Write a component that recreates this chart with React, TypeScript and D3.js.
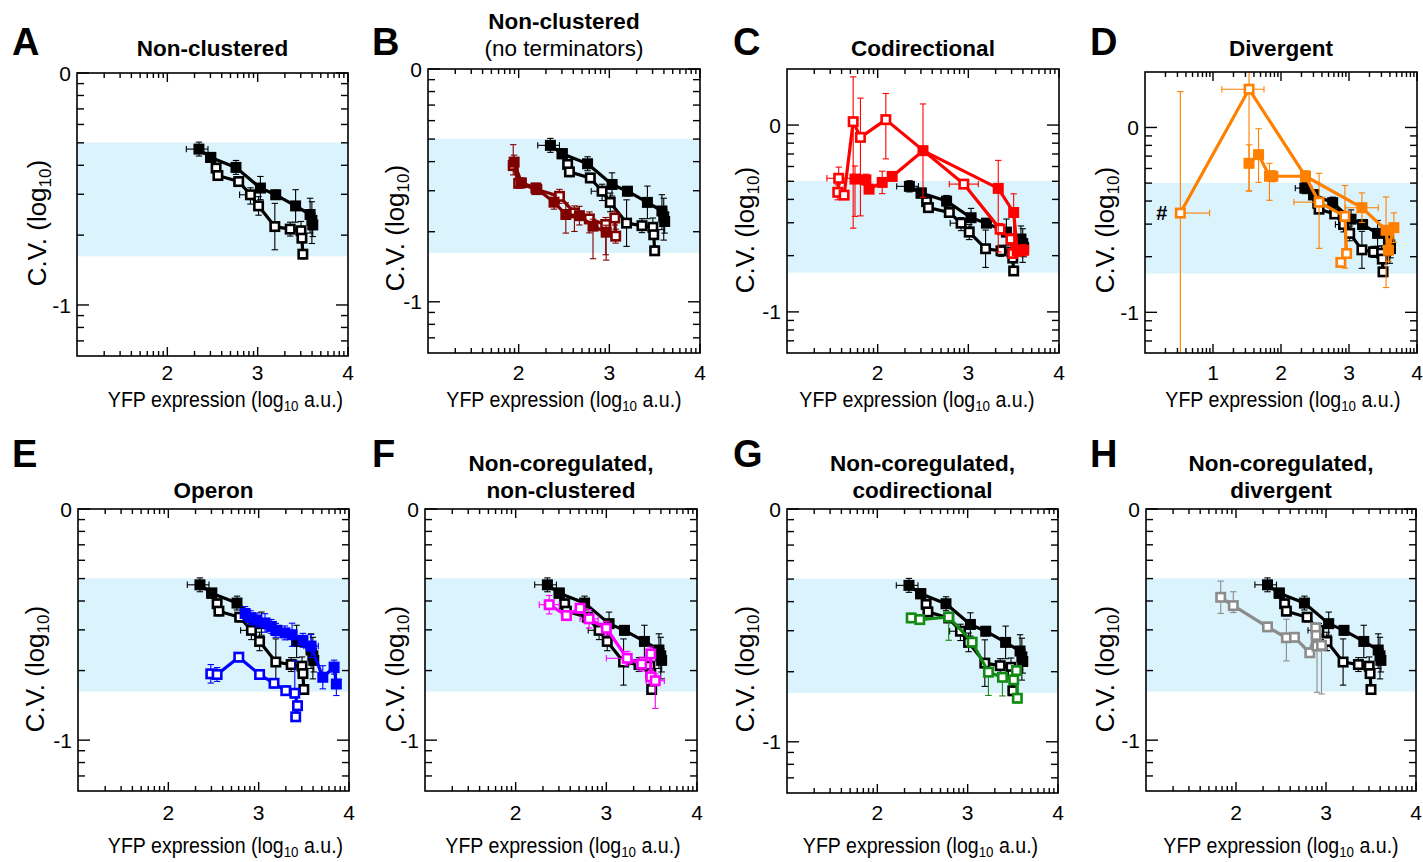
import React from "react";
import * as d3 from "d3";

// x, y, xErrLo, xErrHi, yErrLo, yErrHi  (all in log10 units)
type Pt = [number, number, number, number, number, number];

const refFilled: Pt[] = [
	[2.35, -0.328, 0.14, 0.1, 0.03, 0.03],
	[2.48, -0.364, 0, 0, 0.02, 0.02],
	[2.76, -0.407, 0.03, 0.03, 0.03, 0.03],
	[3.03, -0.496, 0.05, 0.05, 0.05, 0.05],
	[3.2, -0.525, 0.02, 0.02, 0.02, 0.02],
	[3.42, -0.573, 0.02, 0.02, 0.07, 0.07],
	[3.58, -0.61, 0.02, 0.02, 0.08, 0.07],
	[3.6, -0.635, 0.02, 0.02, 0.1, 0.08],
	[3.61, -0.655, 0.02, 0.02, 0.05, 0.05],
];
const refOpen: Pt[] = [
	[2.48, -0.364, 0, 0, 0, 0],
	[2.54, -0.41, 0.02, 0.02, 0.02, 0.02],
	[2.56, -0.442, 0.02, 0.02, 0.02, 0.02],
	[2.79, -0.468, 0.05, 0.05, 0.02, 0.02],
	[2.92, -0.525, 0.12, 0.04, 0.04, 0.03],
	[3.01, -0.573, 0.03, 0.03, 0.04, 0.04],
	[3.19, -0.662, 0.02, 0.02, 0.1, 0.1],
	[3.36, -0.673, 0.02, 0.02, 0.03, 0.03],
	[3.48, -0.68, 0.02, 0.02, 0.04, 0.04],
	[3.49, -0.712, 0.02, 0.02, 0.02, 0.02],
	[3.5, -0.781, 0.02, 0.02, 0.02, 0.02],
];

const noTermOpen: Pt[] = [
	[1.94, -0.415, 0, 0, 0.04, 0.09],
	[2.0, -0.491, 0, 0, 0.02, 0.02],
	[2.2, -0.518, 0, 0, 0.02, 0.02],
	[2.45, -0.547, 0.05, 0.05, 0.03, 0.03],
	[2.615, -0.618, 0, 0, 0.08, 0.03],
	[2.78, -0.644, 0, 0, 0.06, 0.03],
	[2.96, -0.668, 0, 0, 0.13, 0.03],
	[3.06, -0.64, 0, 0, 0.03, 0.03],
	[3.07, -0.718, 0, 0, 0.03, 0.03],
];
const noTermFilled: Pt[] = [
	[1.95, -0.4, 0, 0, 0.03, 0.03],
	[2.03, -0.489, 0, 0, 0.02, 0.02],
	[2.19, -0.511, 0, 0, 0.02, 0.02],
	[2.39, -0.572, 0, 0, 0.03, 0.03],
	[2.52, -0.625, 0, 0, 0.08, 0.05],
	[2.67, -0.63, 0, 0, 0.04, 0.04],
	[2.82, -0.675, 0, 0, 0.14, 0.03],
	[2.965, -0.701, 0, 0, 0.12, 0.03],
];

const codirOpen: Pt[] = [
	[1.57, -0.285, 0.13, 0.13, 0.06, 0.06],
	[1.56, -0.36, 0, 0, 0.04, 0.04],
	[1.63, -0.375, 0, 0, 0.02, 0.02],
	[1.73, 0.018, 0, 0, 0.57, 0.24],
	[1.81, -0.066, 0, 0, 0.42, 0.21],
	[2.09, 0.029, 0, 0, 0.21, 0.14],
	[2.95, -0.316, 0.16, 0.16, 0.02, 0.02],
	[3.35, -0.557, 0, 0, 0.03, 0.03],
	[3.47, -0.611, 0, 0, 0.03, 0.03],
	[3.49, -0.687, 0, 0, 0.02, 0.02],
];
const codirFilled: Pt[] = [
	[1.75, -0.289, 0, 0, 0.2, 0.07],
	[1.87, -0.293, 0.03, 0.03, 0.03, 0.03],
	[1.905, -0.343, 0, 0, 0.02, 0.02],
	[2.05, -0.307, 0, 0, 0.06, 0.06],
	[2.16, -0.275, 0, 0, 0.02, 0.02],
	[2.5, -0.137, 0, 0, 0.25, 0.25],
	[3.33, -0.339, 0, 0, 0.34, 0.15],
	[3.5, -0.468, 0, 0, 0.2, 0.1],
	[3.54, -0.673, 0, 0, 0.03, 0.03],
	[3.61, -0.67, 0, 0, 0.03, 0.03],
];

const divOpen: Pt[] = [
	[0.52, -0.463, 0, 0.43, 1.2, 0.657],
	[1.53, 0.207, 0.4, 0.22, 0.55, 0.2],
	[2.36, -0.264, 0, 0, 0, 0],
	[2.56, -0.404, 0.37, 0, 0.25, 0.156],
	[2.94, -0.481, 0, 0, 0.28, 0.167],
	[2.965, -0.682, 0, 0, 0.02, 0.02],
	[2.88, -0.73, 0, 0, 0.02, 0.02],
];
const divFilled: Pt[] = [
	[1.53, -0.194, 0.02, 0.02, 0.15, 0.1],
	[1.67, -0.147, 0, 0, 0.15, 0.14],
	[1.83, -0.264, 0.05, 0.05, 0.13, 0.07],
	[1.88, -0.264, 0.02, 0.02, 0.03, 0.03],
	[2.36, -0.264, 0.03, 0.03, 0.03, 0.03],
	[3.19, -0.434, 0.24, 0.24, 0.08, 0.08],
	[3.545, -0.556, 0, 0, 0.31, 0.18],
	[3.58, -0.664, 0, 0, 0.06, 0.06],
	[3.66, -0.542, 0, 0, 0.08, 0.08],
];

const operonFilled: Pt[] = [
	[2.85, -0.452, 0.03, 0.03, 0.03, 0.03],
	[2.91, -0.47, 0.03, 0.03, 0.03, 0.03],
	[2.98, -0.48, 0.05, 0.05, 0.03, 0.03],
	[3.07, -0.493, 0.04, 0.04, 0.04, 0.04],
	[3.14, -0.508, 0.03, 0.03, 0.03, 0.03],
	[3.19, -0.525, 0.03, 0.03, 0.03, 0.03],
	[3.29, -0.536, 0.03, 0.03, 0.03, 0.03],
	[3.37, -0.544, 0.04, 0.04, 0.05, 0.05],
	[3.49, -0.568, 0.03, 0.03, 0.03, 0.03],
	[3.58, -0.593, 0.08, 0.08, 0.05, 0.05],
	[3.71, -0.728, 0.03, 0.03, 0.05, 0.05],
	[3.835, -0.684, 0.02, 0.02, 0.03, 0.03],
	[3.86, -0.757, 0.02, 0.02, 0.05, 0.05],
];
const operonOpen: Pt[] = [
	[2.47, -0.713, 0, 0, 0.04, 0.04],
	[2.54, -0.716, 0, 0, 0.03, 0.03],
	[2.78, -0.641, 0, 0, 0.02, 0.02],
	[3.01, -0.716, 0, 0, 0.02, 0.02],
	[3.17, -0.754, 0, 0, 0.02, 0.02],
	[3.3, -0.786, 0, 0, 0.02, 0.02],
	[3.4, -0.797, 0, 0, 0.02, 0.14],
	[3.43, -0.851, 0, 0, 0.02, 0.02],
	[3.41, -0.899, 0, 0, 0.02, 0.02],
];

const ncNonClustered: Pt[] = [
	[2.37, -0.414, 0.11, 0.11, 0.04, 0.04],
	[2.56, -0.461, 0.05, 0.05, 0.02, 0.02],
	[2.71, -0.429, 0.02, 0.02, 0.02, 0.02],
	[2.81, -0.475, 0.1, 0.1, 0.04, 0.04],
	[3.0, -0.516, 0.03, 0.03, 0.03, 0.03],
	[3.23, -0.646, 0.23, 0, 0.03, 0.03],
	[3.39, -0.671, 0.02, 0.02, 0.03, 0.03],
	[3.49, -0.627, 0.02, 0.02, 0.03, 0.03],
	[3.49, -0.726, 0.02, 0.02, 0.03, 0.03],
	[3.54, -0.743, 0.1, 0.1, 0.12, 0.03],
];
const ncCodir: Pt[] = [
	[2.375, -0.468, 0, 0, 0.02, 0.02],
	[2.47, -0.475, 0, 0, 0.02, 0.02],
	[2.79, -0.464, 0, 0, 0.1, 0.02],
	[3.05, -0.572, 0, 0, 0.02, 0.02],
	[3.23, -0.701, 0, 0, 0.1, 0.02],
	[3.385, -0.723, 0, 0, 0.08, 0.02],
	[3.51, -0.734, 0, 0, 0.02, 0.02],
	[3.54, -0.694, 0, 0, 0.02, 0.02],
	[3.55, -0.813, 0, 0, 0.02, 0.02],
];
const ncDiv: Pt[] = [
	[1.83, -0.382, 0, 0, 0.07, 0.07],
	[1.97, -0.418, 0, 0, 0.03, 0.06],
	[2.35, -0.51, 0, 0, 0.02, 0.02],
	[2.56, -0.557, 0, 0, 0.1, 0.08],
	[2.65, -0.555, 0, 0, 0.02, 0.02],
	[2.82, -0.622, 0, 0, 0.02, 0.02],
	[2.885, -0.514, 0, 0, 0.02, 0.02],
	[2.89, -0.547, 0, 0, 0.02, 0.02],
	[2.9, -0.593, 0, 0, 0.2, 0.03],
	[2.95, -0.59, 0, 0, 0.21, 0.03],
];

const BAND = [-0.79, -0.3];
const FONT = '"Liberation Sans", Arial, Helvetica, sans-serif';

interface Series {
	pts: Pt[];
	color: string;
	filled: boolean;
}
const ref: Series[] = [
	{ pts: refOpen, color: "#000", filled: false },
	{ pts: refFilled, color: "#000", filled: true },
];
const pair = (open: Pt[], filled: Pt[], color: string): Series[] => [
	...ref,
	{ pts: open, color, filled: false },
	{ pts: filled, color, filled: true },
];

interface PanelCfg {
	letter: string;
	lx: number;
	ly: number;
	title: [string, boolean][];
	titleY: number;
	box: [number, number, number, number];
	xd: [number, number];
	yd: [number, number];
	ylabX: number;
	ylabY: number;
	xlabDx: number;
	tickY: number;
	xlabY: number;
	series: Series[];
	hash?: boolean;
}

const row1 = { ly: 55, titleY: 56, tickY: 380, xlabY: 407 };
const row2 = { ly: 467, titleY: 498, tickY: 820, xlabY: 853 };

const panels: PanelCfg[] = [
	{ ...row1, letter: "A", lx: 12, title: [["Non-clustered", true]], box: [77, 348, 73, 356], xd: [1, 4], yd: [-1.22, 0], ylabX: 46, ylabY: 223, xlabDx: 13, series: ref },
	{ ...row1, letter: "B", lx: 372, title: [["Non-clustered", true], ["(no terminators)", false]], box: [428, 700, 69, 353], xd: [1, 4], yd: [-1.22, 0], ylabX: 404, ylabY: 228, xlabDx: 0, series: pair(noTermOpen, noTermFilled, "#800000") },
	{ ...row1, letter: "C", lx: 733, title: [["Codirectional", true]], box: [787, 1059, 69, 353], xd: [1, 4], yd: [-1.22, 0.3], ylabX: 754, ylabY: 230, xlabDx: -6, series: pair(codirOpen, codirFilled, "#ff0000") },
	{ ...row1, letter: "D", lx: 1090, title: [["Divergent", true]], box: [1145, 1417, 72, 353], xd: [0, 4], yd: [-1.22, 0.3], ylabX: 1114, ylabY: 230, xlabDx: 2, series: pair(divOpen, divFilled, "#ff8000"), hash: true },
	{ ...row2, letter: "E", lx: 12, title: [["Operon", true]], box: [78, 349, 509, 791], xd: [1, 4], yd: [-1.22, 0], ylabX: 44, ylabY: 669, xlabDx: 12, series: pair(operonOpen, operonFilled, "#0000ff") },
	{ ...row2, letter: "F", lx: 372, title: [["Non-coregulated,", true], ["non-clustered", true]], box: [425, 697, 509, 791], xd: [1, 4], yd: [-1.22, 0], ylabX: 404, ylabY: 669, xlabDx: 2, series: [...ref, { pts: ncNonClustered, color: "#ff00ff", filled: false }] },
	{ ...row2, letter: "G", lx: 733, title: [["Non-coregulated,", true], ["codirectional", true]], box: [787, 1058, 509, 793], xd: [1, 4], yd: [-1.22, 0], ylabX: 754, ylabY: 669, xlabDx: -2, series: [...ref, { pts: ncCodir, color: "#138a13", filled: false }] },
	{ ...row2, letter: "H", lx: 1090, title: [["Non-coregulated,", true], ["divergent", true]], box: [1146, 1416, 509, 791], xd: [1, 4], yd: [-1.22, 0], ylabX: 1114, ylabY: 669, xlabDx: 0, series: [...ref, { pts: ncDiv, color: "#8c8c8c", filled: false }] },
];

// minor ticks of a log10 axis: d + log10(k), k = 2..9
function logMinor(dom: [number, number]) {
	const out: number[] = [];
	for (let d = Math.floor(dom[0]); d < Math.ceil(dom[1]); d++)
		for (let k = 2; k <= 9; k++) {
			const v = d + Math.log10(k);
			if (v > dom[0] + 0.01 && v < dom[1] - 0.01) out.push(v);
		}
	return out;
}

function SeriesMarks({ s, x, y }: { s: Series; x: any; y: any }) {
	const line = d3
		.line<Pt>()
		.x(d => x(d[0]))
		.y(d => y(d[1]));
	const cap = 3.2;
	return (
		<g>
			<g stroke={s.color} strokeWidth={1.1} fill="none">
				{s.pts.map((d, i) => {
					const px = x(d[0]);
					const py = y(d[1]);
					const els: any[] = [];
					if (d[4] || d[5]) {
						const ya = y(d[1] - d[4]);
						const yb = y(d[1] + d[5]);
						els.push(<line key="v" x1={px} x2={px} y1={ya} y2={yb} />);
						els.push(<line key="va" x1={px - cap} x2={px + cap} y1={ya} y2={ya} />);
						els.push(<line key="vb" x1={px - cap} x2={px + cap} y1={yb} y2={yb} />);
					}
					if (d[2] || d[3]) {
						const xa = x(d[0] - d[2]);
						const xb = x(d[0] + d[3]);
						els.push(<line key="h" x1={xa} x2={xb} y1={py} y2={py} />);
						if (d[2]) els.push(<line key="ha" x1={xa} x2={xa} y1={py - cap} y2={py + cap} />);
						if (d[3]) els.push(<line key="hb" x1={xb} x2={xb} y1={py - cap} y2={py + cap} />);
					}
					return <g key={i}>{els}</g>;
				})}
			</g>
			<path d={line(s.pts) || ""} stroke={s.color} strokeWidth={3.2} fill="none" strokeLinejoin="round" />
			{s.pts.map((d, i) =>
				s.filled ? (
					<rect key={i} x={x(d[0]) - 5.5} y={y(d[1]) - 5.5} width={11} height={11} fill={s.color} />
				) : (
					<rect key={i} x={x(d[0]) - 4.2} y={y(d[1]) - 4.2} width={8.4} height={8.4} fill="#fff" stroke={s.color} strokeWidth={2.6} />
				)
			)}
		</g>
	);
}

function Panel({ p }: { p: PanelCfg }) {
	const [l, r, t, b] = p.box;
	const x = d3.scaleLinear().domain(p.xd).range([l, r]);
	const y = d3.scaleLinear().domain(p.yd).range([b, t]);
	const clipId = "clip" + p.letter;
	const xMaj = d3.range(Math.ceil(p.xd[0]) + 1, Math.floor(p.xd[1]) + 1);
	const yMaj = d3.range(Math.ceil(p.yd[0]), Math.floor(p.yd[1]) + 1);
	const xMin = logMinor(p.xd);
	const yMin = logMinor(p.yd);
	const cx = (l + r) / 2;
	const nT = p.title.length;
	return (
		<g>
			<defs>
				<clipPath id={clipId}>
					<rect x={l} y={t} width={r - l} height={b - t} />
				</clipPath>
			</defs>
			<rect x={l} y={y(BAND[1])} width={r - l} height={y(BAND[0]) - y(BAND[1])} fill="#daf3fc" />
			<g clipPath={`url(#${clipId})`}>
				{p.series.map((s, i) => (
					<SeriesMarks key={i} s={s} x={x} y={y} />
				))}
			</g>
			<g stroke="#000" strokeWidth={1.4}>
				{xMin.map(v => (
					<g key={"xm" + v}>
						<line x1={x(v)} x2={x(v)} y1={b} y2={b - 5} />
						<line x1={x(v)} x2={x(v)} y1={t} y2={t + 5} />
					</g>
				))}
				{xMaj.map(v => (
					<g key={"xM" + v}>
						<line x1={x(v)} x2={x(v)} y1={b} y2={b - 9} />
						<line x1={x(v)} x2={x(v)} y1={t} y2={t + 9} />
					</g>
				))}
				{yMin.map(v => (
					<g key={"ym" + v}>
						<line x1={l} x2={l + 7} y1={y(v)} y2={y(v)} />
						<line x1={r} x2={r - 7} y1={y(v)} y2={y(v)} />
					</g>
				))}
				{yMaj.map(v => (
					<g key={"yM" + v}>
						<line x1={l} x2={l + 12} y1={y(v)} y2={y(v)} />
						<line x1={r} x2={r - 12} y1={y(v)} y2={y(v)} />
					</g>
				))}
				<rect x={l} y={t} width={r - l} height={b - t} fill="none" strokeWidth={1.6} />
			</g>
			<g fontFamily={FONT} fontSize={21} fill="#000">
				{xMaj.map(v => (
					<text key={v} x={x(v)} y={p.tickY} textAnchor="middle">
						{v}
					</text>
				))}
				{yMaj.map(v => (
					<text key={v} x={l - 6} y={y(v)} dy="0.36em" textAnchor="end">
						{v < 0 ? "-" + Math.abs(v) : v}
					</text>
				))}
			</g>
			<text transform={`translate(${cx + p.xlabDx},${p.xlabY}) scale(0.89,1)`} fontFamily={FONT} fontSize={22} textAnchor="middle">
				YFP expression (log
				<tspan fontSize={15} dy={4}>
					10
				</tspan>
				<tspan dy={-4}> a.u.)</tspan>
			</text>
			<text transform={`translate(${p.ylabX},${p.ylabY}) rotate(-90)`} fontFamily={FONT} fontSize={26} textAnchor="middle">
				C.V. (log
				<tspan fontSize={17} dy={5}>
					10
				</tspan>
				<tspan dy={-5}>)</tspan>
			</text>
			{p.title.map(([s, bold], i) => (
				<text key={i} x={cx} y={p.titleY - (nT - 1 - i) * 27} fontFamily={FONT} fontSize={22.5} fontWeight={bold ? "bold" : "normal"} textAnchor="middle">
					{s}
				</text>
			))}
			<text x={p.lx} y={p.ly} fontFamily={FONT} fontSize={38} fontWeight="bold">
				{p.letter}
			</text>
			{p.hash ? (
				<text x={x(divOpen[0][0]) - 13} y={y(divOpen[0][1])} dy="0.36em" fontFamily={FONT} fontSize={20} fontWeight="bold" textAnchor="end">
					#
				</text>
			) : null}
		</g>
	);
}

export default function App() {
	return (
		<svg width={1423} height={862} style={{ position: "absolute", left: 0, top: 0, background: "#fff" }}>
			{panels.map(p => (
				<Panel key={p.letter} p={p} />
			))}
		</svg>
	);
}
